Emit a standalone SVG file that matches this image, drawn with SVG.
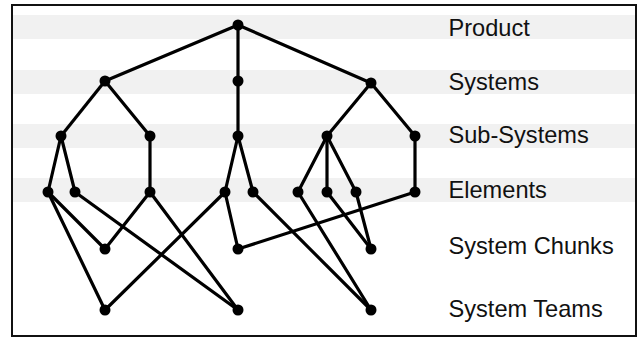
<svg xmlns="http://www.w3.org/2000/svg" width="640" height="339" viewBox="0 0 640 339">
<style>
.band{fill:#f1f1f1}
.lbl{font-family:"Liberation Sans",Arial,sans-serif;font-size:23.6px;fill:#111}
.e{stroke:#000;stroke-width:3.2;fill:none;stroke-linecap:round}
.n{fill:#000}
</style>
<rect x="0" y="0" width="640" height="339" fill="#fff"/>
<g id="bands">
<rect class="band" x="13" y="15" width="622" height="24"/>
<rect class="band" x="13" y="70" width="622" height="24"/>
<rect class="band" x="13" y="124" width="622" height="24"/>
<rect class="band" x="13" y="178" width="622" height="24"/>
</g>
<rect x="12" y="5" width="624" height="331" fill="none" stroke="#111" stroke-width="2"/>
<g id="labels">
<text class="lbl" x="448.5" y="36">Product</text>
<text class="lbl" x="448.5" y="90">Systems</text>
<text class="lbl" x="448.5" y="143">Sub-Systems</text>
<text class="lbl" x="448.5" y="198">Elements</text>
<text class="lbl" x="448.5" y="254">System Chunks</text>
<text class="lbl" x="448.5" y="317">System Teams</text>
</g>
<g id="connectors">
<line class="e" x1="238" y1="25" x2="105" y2="81"/>
<line class="e" x1="238" y1="25" x2="238" y2="81"/>
<line class="e" x1="238" y1="25" x2="371" y2="83"/>
<line class="e" x1="105" y1="81" x2="61" y2="136"/>
<line class="e" x1="105" y1="81" x2="150" y2="136"/>
<line class="e" x1="238" y1="81" x2="238" y2="136"/>
<line class="e" x1="371" y1="83" x2="327" y2="136"/>
<line class="e" x1="371" y1="83" x2="415" y2="136"/>
<line class="e" x1="61" y1="136" x2="48" y2="192"/>
<line class="e" x1="61" y1="136" x2="75" y2="192"/>
<line class="e" x1="150" y1="136" x2="150" y2="192"/>
<line class="e" x1="238" y1="136" x2="225" y2="192"/>
<line class="e" x1="238" y1="136" x2="253" y2="192"/>
<line class="e" x1="327" y1="136" x2="298" y2="192"/>
<line class="e" x1="327" y1="136" x2="327" y2="192"/>
<line class="e" x1="327" y1="136" x2="356" y2="192"/>
<line class="e" x1="415" y1="136" x2="415" y2="192"/>
<line class="e" x1="48" y1="192" x2="105" y2="249"/>
<line class="e" x1="48" y1="192" x2="105" y2="310"/>
<line class="e" x1="75" y1="192" x2="238" y2="310"/>
<line class="e" x1="150" y1="192" x2="105" y2="249"/>
<line class="e" x1="150" y1="192" x2="238" y2="310"/>
<line class="e" x1="225" y1="192" x2="105" y2="310"/>
<line class="e" x1="225" y1="192" x2="238" y2="249"/>
<line class="e" x1="253" y1="192" x2="371" y2="310"/>
<line class="e" x1="238" y1="249" x2="415" y2="192"/>
<line class="e" x1="298" y1="192" x2="371" y2="310"/>
<line class="e" x1="327" y1="192" x2="371" y2="249"/>
<line class="e" x1="356" y1="192" x2="371" y2="249"/>
</g>
<g id="n-product"><circle class="n" cx="238" cy="25" r="5.5"/></g>
<g id="n-sys1"><circle class="n" cx="105" cy="81" r="5.5"/></g>
<g id="n-sys2"><circle class="n" cx="238" cy="81" r="5.5"/></g>
<g id="n-sys3"><circle class="n" cx="371" cy="83" r="5.5"/></g>
<g id="n-ss1"><circle class="n" cx="61" cy="136" r="5.5"/></g>
<g id="n-ss2"><circle class="n" cx="150" cy="136" r="5.5"/></g>
<g id="n-ss3"><circle class="n" cx="238" cy="136" r="5.5"/></g>
<g id="n-ss4"><circle class="n" cx="327" cy="136" r="5.5"/></g>
<g id="n-ss5"><circle class="n" cx="415" cy="136" r="5.5"/></g>
<g id="n-el1"><circle class="n" cx="48" cy="192" r="5.5"/></g>
<g id="n-el2"><circle class="n" cx="75" cy="192" r="5.5"/></g>
<g id="n-el3"><circle class="n" cx="150" cy="192" r="5.5"/></g>
<g id="n-el4"><circle class="n" cx="225" cy="192" r="5.5"/></g>
<g id="n-el5"><circle class="n" cx="253" cy="192" r="5.5"/></g>
<g id="n-el6"><circle class="n" cx="298" cy="192" r="5.5"/></g>
<g id="n-el7"><circle class="n" cx="327" cy="192" r="5.5"/></g>
<g id="n-el8"><circle class="n" cx="356" cy="192" r="5.5"/></g>
<g id="n-el9"><circle class="n" cx="415" cy="192" r="5.5"/></g>
<g id="n-ch1"><circle class="n" cx="105" cy="249" r="5.5"/></g>
<g id="n-ch2"><circle class="n" cx="238" cy="249" r="5.5"/></g>
<g id="n-ch3"><circle class="n" cx="371" cy="249" r="5.5"/></g>
<g id="n-tm1"><circle class="n" cx="105" cy="310" r="5.5"/></g>
<g id="n-tm2"><circle class="n" cx="238" cy="310" r="5.5"/></g>
<g id="n-tm3"><circle class="n" cx="371" cy="310" r="5.5"/></g>
</svg>
